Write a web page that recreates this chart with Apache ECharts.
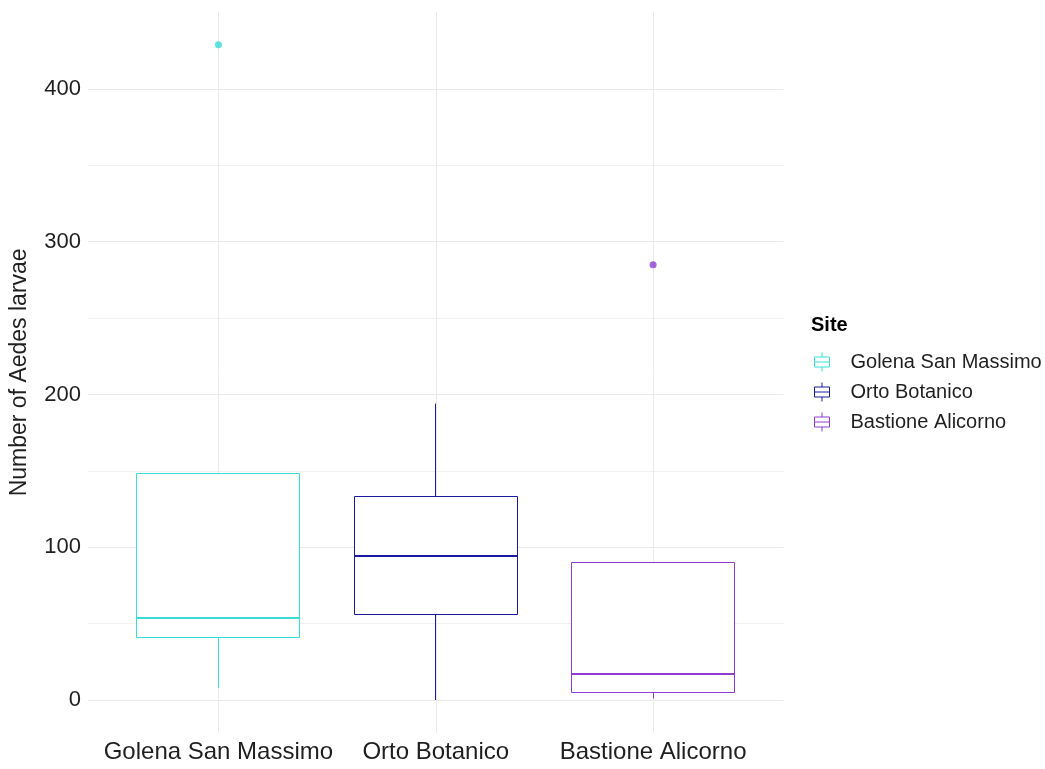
<!DOCTYPE html>
<html>
<head>
<meta charset="utf-8">
<script src="https://cdn.jsdelivr.net/npm/echarts@6/dist/echarts.min.js"></script>
<style>
  html, body { margin: 0; padding: 0; background: #ffffff; }
  #chart { width: 1045px; height: 769px; }
</style>
</head>
<body>
<div id="chart"></div>
<script>
// Box summaries per site (Tukey: whisker ends, quartiles, median)
const sites = ['Golena San Massimo', 'Orto Botanico', 'Bastione Alicorno'];
const whiskerLow = [8, 0, 1];
const q1 = [41, 56, 5];
const median = [53.5, 94.5, 17];
const q3 = [148, 133, 90];
const whiskerHigh = [148, 194, 90];

// Points beyond the whiskers
const outlierSite = [0, 2];
const outlierValue = [429, 285];

// Axis ticks
const yTicks = [0, 100, 200, 300, 400];
const yMinorTicks = [50, 150, 250, 350];
const xTicks = [1, 2, 3];

const colors = ['#38dcd3', '#1a1aa0', '#8e3cd0'];
const FONT = "'Liberation Sans', Arial, sans-serif";
const TEXT = '#1f1f1f';
const GRID = '#e9e9e9';

// y range padded by 5% on each side
const lo = Math.min(...whiskerLow);
const hi = Math.max(...whiskerHigh, ...outlierValue);
const pad = (hi - lo) * 0.05;
const yMin = lo - pad;
const yMax = hi + pad;

// snap a 1px stroke onto the pixel grid
const crisp = v => Math.round(v - 0.5) + 0.5;

const boxSeries = sites.map((name, i) => ({
  type: 'custom',
  name: name,
  xAxisIndex: 0,
  yAxisIndex: 0,
  itemStyle: { color: '#ffffff', borderColor: colors[i], borderWidth: 1 },
  encode: { x: 0, y: [1, 2, 3, 4, 5] },
  data: [[i + 1, whiskerLow[i], q1[i], median[i], q3[i], whiskerHigh[i]]],
  renderItem: function (params, api) {
    const x = api.value(0);
    const half = api.size([0.75, 0])[0] / 2;
    const pLow = api.coord([x, api.value(1)]);
    const pQ1 = api.coord([x, api.value(2)]);
    const pMed = api.coord([x, api.value(3)]);
    const pQ3 = api.coord([x, api.value(4)]);
    const pHigh = api.coord([x, api.value(5)]);
    const cx = crisp(pQ1[0]);
    const left = crisp(pQ1[0] - half);
    const right = crisp(pQ1[0] + half);
    const yQ1 = crisp(pQ1[1]);
    const yQ3 = crisp(pQ3[1]);
    const stroke = colors[i];
    const children = [];
    if (pLow[1] - pQ1[1] > 0.5) {
      children.push({ type: 'line', shape: { x1: cx, y1: yQ1, x2: cx, y2: pLow[1] },
        style: { stroke: stroke, lineWidth: 1 } });
    }
    if (pQ3[1] - pHigh[1] > 0.5) {
      children.push({ type: 'line', shape: { x1: cx, y1: pHigh[1], x2: cx, y2: yQ3 },
        style: { stroke: stroke, lineWidth: 1 } });
    }
    children.push({ type: 'rect',
      shape: { x: left, y: yQ3, width: right - left, height: yQ1 - yQ3 },
      style: { fill: '#ffffff', stroke: stroke, lineWidth: 1 } });
    const yMed = Math.round(pMed[1]);
    children.push({ type: 'line', shape: { x1: left, y1: yMed, x2: right, y2: yMed },
      style: { stroke: stroke, lineWidth: 2 } });
    return { type: 'group', children: children };
  }
}));

const option = {
  animation: false,
  backgroundColor: '#ffffff',
  textStyle: { fontFamily: FONT },
  title: {
    text: 'Site',
    left: 811,
    top: 315,
    padding: 0,
    textStyle: { fontFamily: FONT, fontSize: 20, fontWeight: 'bold', color: '#000000' }
  },
  legend: {
    data: sites,
    orient: 'vertical',
    left: 814,
    top: 352,
    padding: 0,
    itemWidth: 15,
    itemHeight: 19,
    itemGap: 10,
    symbolKeepAspect: false,
    icon: 'path://M7.5,0V4.5M0.5,4.5H14.5V14.5H0.5ZM0.5,9.5H14.5M7.5,14.5V19',
    itemStyle: { color: '#ffffff', borderWidth: 1 },
    textStyle: { fontFamily: FONT, fontSize: 20, color: TEXT, padding: [0, 0, 0, 16] }
  },
  grid: { left: 87.5, right: 261.5, top: 11.9, bottom: 36.2, containLabel: false },
  xAxis: {
    type: 'value',
    min: 0.4,
    max: 3.6,
    axisLine: { show: false },
    axisTick: { show: false, customValues: xTicks },
    axisLabel: {
      customValues: xTicks,
      formatter: v => sites[Math.round(v) - 1],
      fontFamily: FONT, fontSize: 24, color: TEXT, margin: 8
    },
    splitLine: { show: true, lineStyle: { color: GRID, width: 1 } }
  },
  yAxis: [
    {
      type: 'value',
      min: yMin,
      max: yMax,
      name: 'Number of Aedes larvae',
      nameLocation: 'middle',
      nameRotate: 90,
      nameGap: 57,
      nameTextStyle: { fontFamily: FONT, fontSize: 23, color: TEXT },
      axisLine: { show: false },
      axisTick: { show: false, customValues: yTicks },
      axisLabel: { customValues: yTicks, fontFamily: FONT, fontSize: 22, color: TEXT, margin: 7 },
      splitLine: { show: true, lineStyle: { color: GRID, width: 1 } }
    },
    {
      type: 'value',
      min: yMin,
      max: yMax,
      position: 'left',
      axisLine: { show: false },
      axisTick: { show: false, customValues: yMinorTicks },
      axisLabel: { show: false, customValues: yMinorTicks },
      splitLine: { show: true, lineStyle: { color: '#efefef', width: 1 } }
    }
  ],
  series: boxSeries.concat([{
    type: 'scatter',
    name: 'outliers',
    xAxisIndex: 0,
    yAxisIndex: 0,
    symbolSize: 7,
    data: outlierSite.map((s, k) => ({ value: [s + 1, outlierValue[k]], itemStyle: { color: colors[s] } }))
  }])
};

const chart = echarts.init(document.getElementById('chart'), null, { renderer: 'canvas' });
chart.setOption(option);
</script>
</body>
</html>
